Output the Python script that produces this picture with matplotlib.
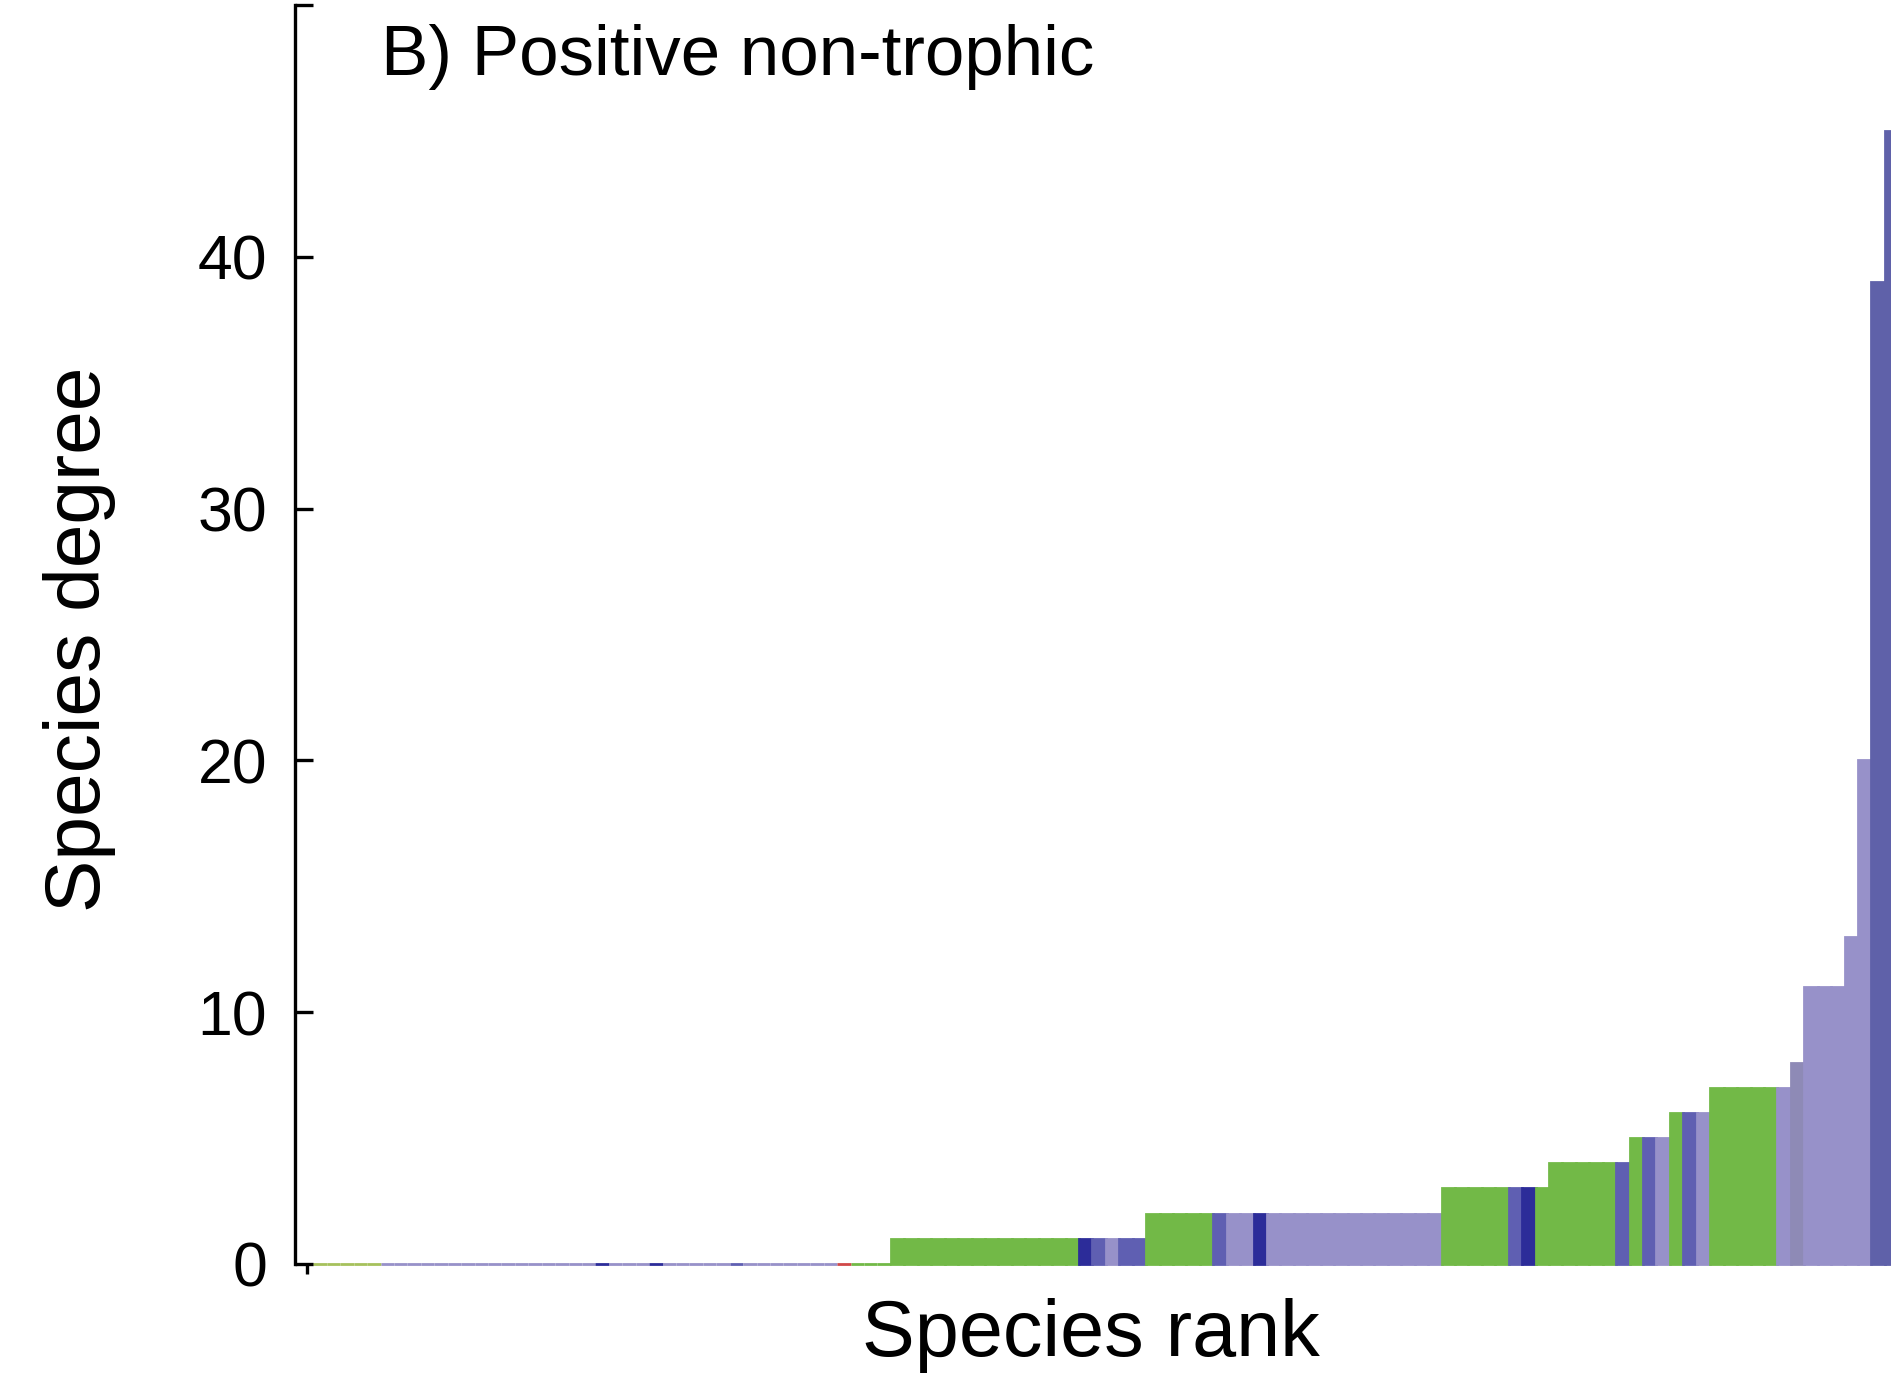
import matplotlib
matplotlib.use("Agg")
import matplotlib.pyplot as plt
import numpy as np

plt.rcParams["font.family"] = ["Liberation Sans", "DejaVu Sans"]

# Species degree levels (ranked ascending) and, for each level, the
# functional group of every species holding that degree.
degree_levels = [0, 1, 2, 3, 4, 5, 6, 7, 8, 11, 13, 20, 39, 45]
group_codes = [
    "YYYYYYPPPPPPPPPPPPPPPPNPPPNPPPPPBPPPPPPPRGGG",
    "GGGGGGGGGGGGGGNBPBB",
    "GGGGGBPPNPPPPPPPPPPPPP",
    "GGGGGBNG",
    "GGGGGB",
    "GBP",
    "GBP",
    "GGGGGP",
    "Q",
    "PPP",
    "P",
    "P",
    "M",
    "M",
]

group_colors = {
    "G": "#72b947",
    "Y": "#a6c15c",
    "P": "#9791c9",
    "Q": "#8e8ab6",
    "B": "#5f5fb2",
    "N": "#2c2c99",
    "R": "#d04848",
    "M": "#5f61a9",
}

degrees = np.concatenate([[lvl] * len(codes) for lvl, codes in zip(degree_levels, group_codes)])
codes = "".join(group_codes)
colors = [group_colors[c] for c in codes]
rank = np.arange(len(degrees))

fig = plt.figure(figsize=(18.91, 13.85), dpi=100)
ax = fig.add_axes([0.156, 0.0801, 0.844, 0.9163])

ax.bar(rank, degrees, width=1.0, align="edge", color=colors,
       edgecolor=colors, linewidth=2.0, clip_on=True)

ax.set_xlim(-0.37, 118.46)
ax.set_ylim(-0.4, 50)

for side in ("top", "right", "bottom"):
    ax.spines[side].set_visible(False)
ax.spines["left"].set_bounds(0, 50)
ax.spines["left"].set_linewidth(2.4)

ax.set_yticks([0, 10, 20, 30, 40, 50])
ax.set_yticklabels(["0", "10", "20", "30", "40", ""])
ax.tick_params(axis="y", direction="in", length=13, width=2.4,
               labelsize=45, pad=20)
ax.set_xticks([0.5])
ax.set_xticklabels([""])
ax.tick_params(axis="x", direction="in", length=7, width=2.4)

ax.text(0.054, 0.985, "B) Positive non-trophic", transform=ax.transAxes,
        fontsize=51, ha="left", va="top")

fig.text(0.042, 0.5386, "Species degree", rotation=90, fontsize=56.5,
         ha="center", va="center")
fig.text(0.577, 0.036, "Species rank", fontsize=57, ha="center",
         va="center")

fig.savefig("out.png", dpi=100)
